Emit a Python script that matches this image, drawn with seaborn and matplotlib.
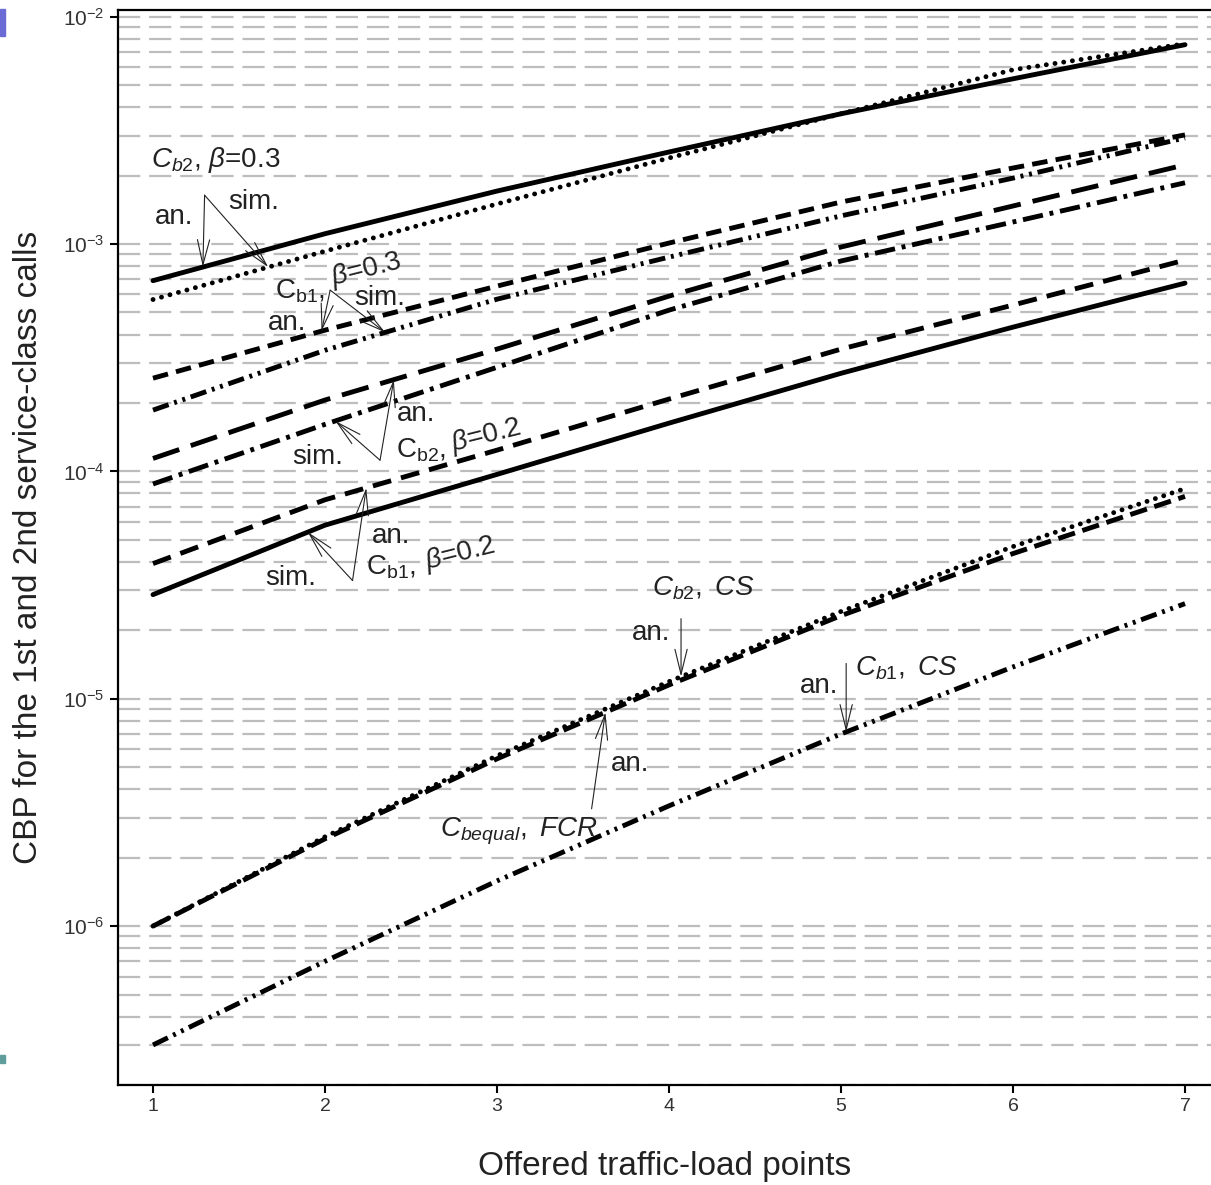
import numpy as np
import matplotlib
matplotlib.use('Agg')
import matplotlib.pyplot as plt
from matplotlib.patches import Rectangle
from matplotlib.ticker import LogLocator, LogFormatterSciNotation, NullFormatter
import seaborn as sns

# offered traffic-load points
x_load = [1, 2, 3, 4, 5, 6, 7]

# CBP values
cb2_b03_an = [6.9e-4, 1.11e-3, 1.71e-3, 2.54e-3, 3.74e-3, 5.33e-3, 7.53e-3]
cb2_b03_sim = [5.7e-4, 9.3e-4, 1.50e-3, 2.39e-3, 3.74e-3, 5.84e-3, 7.6e-3]
cb1_b03_an = [2.57e-4, 4.18e-4, 6.53e-4, 1.01e-3, 1.53e-3, 2.16e-3, 3.02e-3]
cb1_b03_sim = [1.86e-4, 3.41e-4, 5.72e-4, 8.76e-4, 1.33e-3, 1.95e-3, 2.93e-3]
cb2_b02_an = [1.14e-4, 2.06e-4, 3.45e-4, 5.9e-4, 9.7e-4, 1.47e-3, 2.23e-3]
cb2_b02_sim = [8.8e-5, 1.61e-4, 2.87e-4, 5.12e-4, 8.42e-4, 1.25e-3, 1.86e-3]
cb1_b02_an = [3.93e-5, 7.5e-5, 1.24e-4, 2.08e-4, 3.45e-4, 5.39e-4, 8.5e-4]
cb1_b02_sim = [2.87e-5, 5.8e-5, 9.7e-5, 1.63e-4, 2.7e-4, 4.31e-4, 6.73e-4]
cb2_cs_an = [1.0e-6, 2.47e-6, 5.61e-6, 1.19e-5, 2.42e-5, 4.67e-5, 8.4e-5]
cbequal_fcr_an = [1.0e-6, 2.42e-6, 5.44e-6, 1.15e-5, 2.32e-5, 4.35e-5, 7.76e-5]
cb1_cs_an = [3.0e-7, 7.0e-7, 1.58e-6, 3.38e-6, 7.0e-6, 1.38e-5, 2.62e-5]

# line style for each curve (dash patterns in linewidth units)
styles = [
    (cb2_b03_an, '-'),
    (cb2_b03_sim, (0, (0.01, 1.8))),
    (cb1_b03_an, (0, (3.2, 1.7))),
    (cb1_b03_sim, (0, (3.4, 1.2, 0.6, 1.2, 0.6, 1.2))),
    (cb2_b02_an, (0, (5.7, 2.5))),
    (cb2_b02_sim, (0, (4.2, 1.4, 0.8, 1.4))),
    (cb1_b02_an, (0, (3.9, 2.1))),
    (cb1_b02_sim, '-'),
    (cb2_cs_an, (0, (0.01, 1.8))),
    (cbequal_fcr_an, (0, (3.6, 1.6))),
    (cb1_cs_an, (0, (3.4, 1.2, 0.6, 1.2, 0.6, 1.2))),
]

sns.set_style("white")
plt.rcParams['font.family'] = ['Liberation Sans', 'DejaVu Sans']
plt.rcParams['mathtext.fontset'] = 'custom'
plt.rcParams['mathtext.rm'] = 'Liberation Sans'
plt.rcParams['mathtext.it'] = 'Liberation Sans:italic'
plt.rcParams['mathtext.bf'] = 'Liberation Sans:bold'

W, H = 1211, 1185
fig = plt.figure(figsize=(W / 100, H / 100), dpi=100)
ax = fig.add_axes([118 / W, 1 - 1085 / H, 1 - 118 / W, 1075 / H])

for vals, ls in styles:
    sns.lineplot(x=x_load, y=vals, color='black', lw=3.5, linestyle=ls,
                 dash_capstyle='round' if ls != '-' and ls[1][0] < 0.1 else 'butt',
                 errorbar=None, ax=ax)

ax.set_yscale('log')
ax.set_xlim(1 - 35 / 172, 7 + 26 / 172)
ax.set_ylim(2e-7, 1.07e-2)
ax.set_xticks(x_load)
ax.yaxis.set_major_locator(LogLocator(base=10, numticks=20))
ax.yaxis.set_major_formatter(LogFormatterSciNotation())
ax.yaxis.set_minor_locator(LogLocator(base=10, subs=np.arange(2, 10), numticks=40))
ax.yaxis.set_minor_formatter(NullFormatter())
ax.tick_params(axis='both', which='major', direction='out', length=6, width=1.5,
               labelsize=14, labelcolor='#333333', color='black', left=True, bottom=True)
ax.tick_params(axis='y', which='major', labelsize=15)
ax.tick_params(axis='y', which='minor', length=0)
ax.set_axisbelow(True)
ax.grid(True, which='both', axis='y', color='#bdbdbd', lw=1.6, ls=(0, (10, 4)))
ax.grid(False, axis='x')
for side in ['left', 'bottom', 'top']:
    ax.spines[side].set_linewidth(1.6)
    ax.spines[side].set_color('black')
ax.spines['right'].set_visible(False)

ax.set_xlabel('Offered traffic-load points', fontsize=24, labelpad=26, color='#222222')
ax.set_ylabel('CBP for the 1st and 2nd service-class calls', fontsize=24, labelpad=14,
              color='#222222')

# annotations
arw = dict(arrowstyle='->, head_length=0.9, head_width=0.22', lw=0.8, color='#222222',
           shrinkA=0, shrinkB=0, mutation_scale=20)


def on_curve(vals, x):
    return 10 ** np.interp(x, x_load, np.log10(vals))


def point(vals, x_tip, tail):
    ax.annotate('', xy=(x_tip, on_curve(vals, x_tip)), xytext=tail, arrowprops=arw)


fs = 20
tk = dict(fontsize=fs, va='center', ha='left', color='#222222')

# Cb2, beta=0.3
ax.text(0.99, 2.34e-3, r'$C_{b2}$, $\beta$=0.3', **tk)
ax.text(1.01, 1.32e-3, 'an.', **tk)
ax.text(1.436, 1.53e-3, 'sim.', **tk)
point(cb2_b03_an, 1.29, (1.30, 1.64e-3))
point(cb2_b03_sim, 1.67, (1.30, 1.64e-3))

# Cb1, beta=0.3
ax.text(1.71, 6.2e-4, r'$\mathrm{C}_{\mathrm{b1}}$,', **tk)
ax.text(2.24, 7.7e-4, r'$\beta$=0.3', fontsize=fs, va='center', ha='center',
        rotation=14, color='#222222')
ax.text(1.67, 4.49e-4, 'an.', **tk)
ax.text(2.17, 5.78e-4, 'sim.', **tk)
point(cb1_b03_an, 1.98, (2.03, 6.27e-4))
point(cb1_b03_sim, 2.35, (2.03, 6.27e-4))

# Cb2, beta=0.2
ax.text(2.41, 1.24e-4, r'$\mathrm{C}_{\mathrm{b2}}$,', **tk)
ax.text(2.94, 1.44e-4, r'$\beta$=0.2', fontsize=fs, va='center', ha='center',
        rotation=14, color='#222222')
ax.text(2.42, 1.78e-4, 'an.', **tk)
ax.text(1.81, 1.16e-4, 'sim.', **tk)
point(cb2_b02_an, 2.40, (2.32, 1.12e-4))
point(cb2_b02_sim, 2.06, (2.32, 1.12e-4))

# Cb1, beta=0.2
ax.text(2.24, 3.78e-5, r'$\mathrm{C}_{\mathrm{b1}}$,', **tk)
ax.text(2.785, 4.35e-5, r'$\beta$=0.2', fontsize=fs, va='center', ha='center',
        rotation=14, color='#222222')
ax.text(2.27, 5.22e-5, 'an.', **tk)
ax.text(1.65, 3.41e-5, 'sim.', **tk)
point(cb1_b02_an, 2.24, (2.16, 3.31e-5))
point(cb1_b02_sim, 1.90, (2.16, 3.31e-5))

# CS and FCR
ax.text(3.90, 3.05e-5, r'$C_{b2},\ CS$', **tk)
ax.text(3.785, 1.95e-5, 'an.', **tk)
point(cb2_cs_an, 4.07, (4.07, 2.25e-5))

ax.text(5.08, 1.355e-5, r'$C_{b1},\ CS$', **tk)
ax.text(4.76, 1.14e-5, 'an.', **tk)
point(cb1_cs_an, 5.03, (5.03, 1.43e-5))

ax.text(2.67, 2.62e-6, r'$C_{bequal},\ FCR$', **tk)
ax.text(3.66, 5.17e-6, 'an.', **tk)
point(cbequal_fcr_an, 3.63, (3.55, 3.28e-6))

# slide edge marks
fig.patches.append(Rectangle((0, 1 - 36 / H), 5 / W, 27 / H, transform=fig.transFigure,
                             color='#6b6bd6', zorder=5))
fig.patches.append(Rectangle((0, 1 - 1063 / H), 5 / W, 8 / H, transform=fig.transFigure,
                             color='#5f9c9c', zorder=5))

fig.savefig('out.png', dpi=100)
